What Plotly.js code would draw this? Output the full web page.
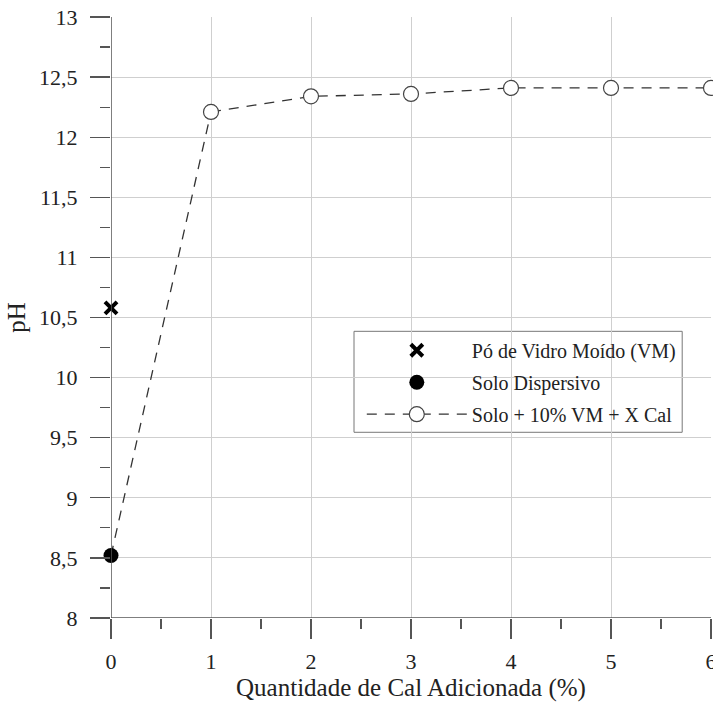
<!DOCTYPE html>
<html>
<head>
<meta charset="utf-8">
<script src="https://cdn.plot.ly/plotly-3.0.1.min.js"></script>
<style>html,body{margin:0;padding:0;background:#fff;}#chart{width:713px;height:704px;}</style>
</head>
<body>
<div id="chart"></div>
<script>
// Data
const vmX = [0];
const vmY = [10.58];
const soloX = [0];
const soloY = [8.52];
const calX = [0, 1, 2, 3, 4, 5, 6];
const calY = [8.52, 12.21, 12.34, 12.36, 12.41, 12.41, 12.41];
const xTickVals = [0, 1, 2, 3, 4, 5, 6];
const xTickText = ['0', '1', '2', '3', '4', '5', '6'];
const yTickVals = [8, 8.5, 9, 9.5, 10, 10.5, 11, 11.5, 12, 12.5, 13];
const yTickText = ['8', '8,5', '9', '9,5', '10', '10,5', '11', '11,5', '12', '12,5', '13'];
const names = ['Pó de Vidro Moído (VM)', 'Solo Dispersivo', 'Solo + 10% VM + X Cal'];

const font = 'Liberation Serif';

const traces = [
  {
    x: calX.slice(0, 2), y: calY.slice(0, 2), type: 'scatter', mode: 'lines',
    line: {color: '#333', width: 1.3, dash: '10px,8px'}, showlegend: false, hoverinfo: 'skip'
  },
  {
    x: vmX, y: vmY, name: names[0], type: 'scatter', mode: 'markers', legendgroup: 'a',
    marker: {symbol: 'x-thin-open', size: 12, color: '#000', line: {color: '#000', width: 4}},
    cliponaxis: false
  },
  {
    x: soloX, y: soloY, name: names[1], type: 'scatter', mode: 'markers', legendgroup: 'b',
    marker: {symbol: 'circle', size: 15, color: '#000', line: {color: '#000', width: 0}},
    cliponaxis: false
  },
  {
    x: calX.slice(1), y: calY.slice(1), name: names[2], type: 'scatter', mode: 'lines+markers', legendgroup: 'c',
    line: {color: '#333', width: 1.3, dash: '10px,8px'},
    marker: {symbol: 'circle', size: 15, color: '#fff', line: {color: '#444', width: 1.2}},
    cliponaxis: false
  }
];

function axis(extra) {
  return Object.assign({
    showline: false,
    showgrid: true, gridcolor: '#cfcfcf', gridwidth: 1,
    zeroline: false,
    ticks: 'outside', ticklen: 20, tickwidth: 1.3, tickcolor: '#555',
    tickfont: {family: font, size: 22, color: '#222'},
    ticklabeloverflow: 'allow',
    tickmode: 'array'
  }, extra);
}

const layout = {
  width: 713, height: 704,
  margin: {l: 111, r: 2, t: 17, b: 86},
  paper_bgcolor: '#fff', plot_bgcolor: '#fff',
  separators: ',.',
  font: {family: font, color: '#222', size: 20},
  showlegend: true,
  xaxis: axis({
    range: [0, 6],
    tickvals: xTickVals, ticktext: xTickText,
    ticklabelstandoff: 4,
    minor: {dtick: 0.5, tick0: 0, ticks: 'outside', ticklen: 10, tickwidth: 1.3, tickcolor: '#555', showgrid: false},
    title: {text: 'Quantidade de Cal Adicionada (%)', font: {family: font, size: 25, color: '#222'}, standoff: 2}
  }),
  yaxis: axis({
    range: [8, 13],
    tickvals: yTickVals, ticktext: yTickText,
    ticklabelstandoff: 8,
    minor: {dtick: 0.25, tick0: 8, ticks: 'outside', ticklen: 10, tickwidth: 1.3, tickcolor: '#555', showgrid: false},
    title: {text: 'pH', font: {family: font, size: 25, color: '#222'}, standoff: 6}
  }),
  legend: {
    x: 0.418, y: 0.478, xanchor: 'left', yanchor: 'top',
    bgcolor: 'rgba(0,0,0,0)', borderwidth: 0,
    font: {family: font, size: 20, color: '#222'},
    itemwidth: 100, tracegroupgap: 3,
    traceorder: 'grouped'
  },
  shapes: [
    // legend frame (white, hides gridlines)
    {type: 'rect', xref: 'paper', yref: 'paper', layer: 'below',
     x0: 0.405, x1: 0.952, y0: 0.309, y1: 0.477,
     fillcolor: '#fff', line: {color: '#777', width: 1}},
    // y axis line (x = 0) and x axis line (y = 8)
    {type: 'line', xref: 'x', yref: 'paper', x0: 0, x1: 0, y0: 0, y1: 1, line: {color: '#555', width: 1.5}},
    {type: 'line', xref: 'paper', yref: 'y', x0: 0, x1: 1, y0: 8, y1: 8, line: {color: '#555', width: 1.5}}
  ]
};

Plotly.newPlot('chart', traces, layout, {displayModeBar: false, staticPlot: true});
</script>
</body>
</html>
